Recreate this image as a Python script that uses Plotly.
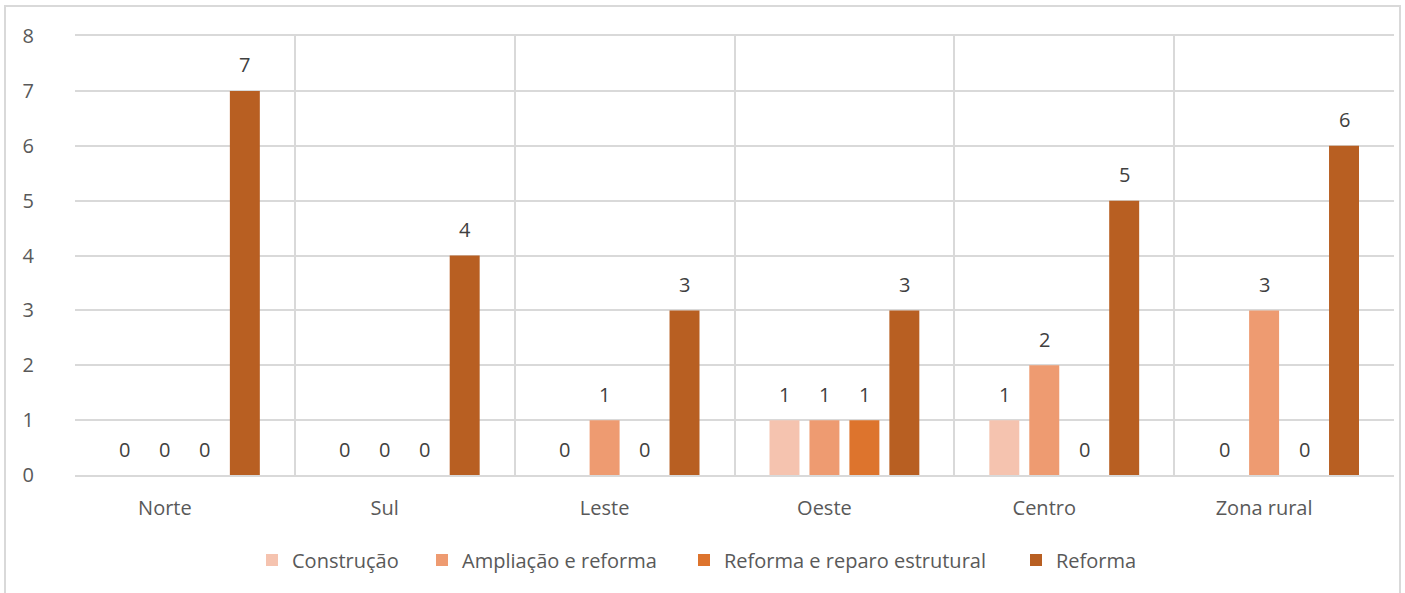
import plotly.graph_objects as go

categories = ["Norte", "Sul", "Leste", "Oeste", "Centro", "Zona rural"]
series_names = ["Construção", "Ampliação e reforma", "Reforma e reparo estrutural", "Reforma"]
construcao = [0, 0, 0, 1, 1, 0]
ampliacao = [0, 0, 1, 1, 2, 3]
reparo = [0, 0, 0, 1, 0, 0]
reforma = [7, 4, 3, 3, 5, 6]
colors = ["#F5C3AF", "#EE9B71", "#DD742D", "#B85F22"]
y_ticks = [0, 1, 2, 3, 4, 5, 6, 7, 8]

all_series = [construcao, ampliacao, reparo, reforma]

W, H = 1405, 593
L, R, T, B = 75, 11, 36, 118
pw = W - L - R
ph = H - T - B

def px_x(p):
    return (p - L) / pw

def px_y(p):
    return (H - B - p) / ph

legend_ids = ["legend", "legend2", "legend3", "legend4"]
legend_text_start = [292, 462, 724, 1056]

fig = go.Figure()
for name, vals, col, lid in zip(series_names, all_series, colors, legend_ids):
    fig.add_trace(go.Bar(name=name, x=categories, y=vals, legend=lid, showlegend=True,
                         marker=dict(color=col, line=dict(width=0))))

annotations = []
for i, vals in enumerate(all_series):
    for cat, v in zip(categories, vals):
        annotations.append(dict(
            x=cat, y=v, xref="x", yref="y", text=str(v), showarrow=False,
            xshift=(i - 1.5) * 40, yshift=26, yanchor="middle",
            font=dict(family="Open Sans", size=20, color="#404040"),
        ))

shapes = [dict(type="rect", xref="paper", yref="paper",
               x0=px_x(5), x1=px_x(1400), y0=px_y(640), y1=px_y(6),
               line=dict(color="#D9D9D9", width=2), fillcolor="rgba(0,0,0,0)", layer="below")]

layout_legends = {}
for lid, ts in zip(legend_ids, legend_text_start):
    layout_legends[lid] = dict(
        orientation="h", x=px_x(ts - 40), xanchor="left", y=px_y(560), yanchor="middle",
        font=dict(family="Open Sans", size=20, color="#595959"), bgcolor="rgba(0,0,0,0)",
        borderwidth=0, visible=True,
    )

fig.update_layout(
    width=W, height=H,
    showlegend=True,
    margin=dict(l=L, r=R, t=T, b=B, autoexpand=False),
    paper_bgcolor="white", plot_bgcolor="white",
    barmode="group", bargap=0.273, bargroupgap=0.25,
    font=dict(family="Open Sans", size=20, color="#595959"),
    annotations=annotations,
    shapes=shapes,
    xaxis=dict(tickson="boundaries", showgrid=True, gridcolor="#D9D9D9", gridwidth=2,
               showline=True, linecolor="#D9D9D9", linewidth=2, mirror=True,
               ticks="", ticklabelstandoff=14, ticklabelshift=-20, automargin=False,
               tickfont=dict(size=20, color="#595959")),
    yaxis=dict(range=[0, 8], tickvals=y_ticks, showgrid=True, gridcolor="#D9D9D9", gridwidth=2,
               zeroline=False, showline=False, ticks="", ticklabelstandoff=40, automargin=False,
               tickfont=dict(size=20, color="#595959")),
    **layout_legends,
)

fig.write_html("out.html", config={"displayModeBar": False},
               post_script="document.body.style.margin='0';")
